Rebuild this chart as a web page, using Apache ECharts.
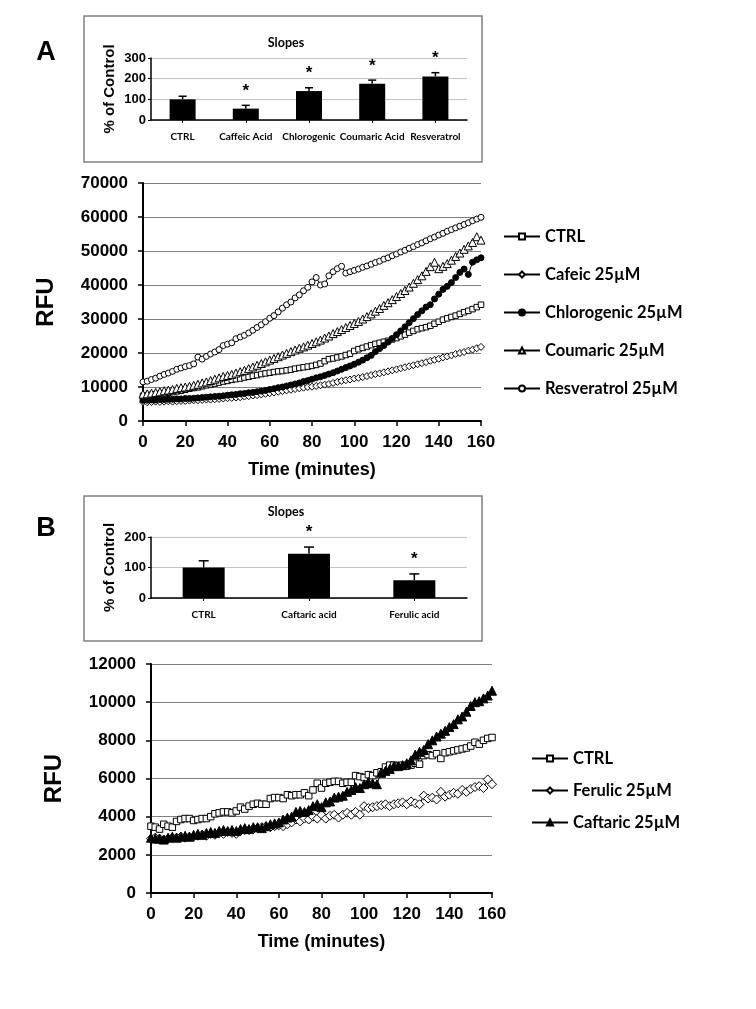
<!DOCTYPE html>
<html><head><meta charset="utf-8">
<script src="https://cdn.jsdelivr.net/npm/echarts@6/dist/echarts.min.js"></script>
<style>html,body{margin:0;padding:0;background:#fff}#c{width:756px;height:1009px}</style>
</head><body><div id="c"></div>
<script>
// ---------- DATA ----------
const catsA = ['CTRL','Caffeic Acid','Chlorogenic','Coumaric Acid','Resveratrol'];
const slopeA = [100, 55, 140, 176, 211];
const errA = [15, 16, 16, 17, 18];
const sigA = [0, 1, 1, 1, 1];

const catsB = ['CTRL','Caftaric acid','Ferulic acid'];
const slopeB = [100, 145, 58];
const errB = [22, 22, 21];
const sigB = [0, 1, 1];

const timeMin = [0,2,4,6,8,10,12,14,16,18,20,22,24,26,28,30,32,34,36,38,40,42,44,46,48,50,52,54,56,58,60,62,64,66,68,70,72,74,76,78,80,82,84,86,88,90,92,94,96,98,100,102,104,106,108,110,112,114,116,118,120,122,124,126,128,130,132,134,136,138,140,142,144,146,148,150,152,154,156,158,160];

const ctrlA = [7400,7500,7700,7800,8000,8100,8300,8500,8700,8900,
9200,9500,9700,9900,10200,10500,10700,11000,11300,11600,
11800,12100,12300,12500,12800,13000,13300,13500,13800,14000,
14200,14400,14600,14700,14900,15100,15400,15600,15800,16000,
16200,16500,16900,17600,18200,18400,18700,19000,19400,19800,
20600,21100,21500,21900,22300,22700,23000,23300,23600,24000,
24400,24900,25400,26000,26500,27000,27300,27600,28000,28600,
29200,29800,30200,30600,31000,31500,32000,32400,32900,33500,
34200];
const cafeicA = [5600,5500,5600,5700,5600,5700,5800,5700,5800,5900,
5900,6000,6100,6100,6200,6300,6300,6400,6500,6600,
6700,6800,6900,7000,7200,7300,7500,7600,7800,8000,
8200,8400,8600,8800,9000,9200,9400,9600,9800,10000,
10100,10300,10500,10700,10900,11200,11500,11800,12000,12200,
12500,12700,12900,13200,13500,13800,14000,14300,14600,14900,
15200,15500,15800,16100,16400,16700,17000,17300,17700,18000,
18300,18700,19000,19300,19700,20000,20300,20700,21000,21400,
21800];
const chloroA = [6100,6100,6200,6200,6300,6300,6400,6400,6500,6500,
6600,6600,6700,6800,6900,7000,7100,7200,7300,7400,
7600,7700,7800,8000,8100,8300,8400,8600,8800,9000,
9300,9500,9800,10000,10300,10600,10900,11200,11600,11900,
12300,12700,13000,13400,13800,14200,14700,15200,15700,16200,
16700,17300,17900,18600,19300,20400,21300,22200,23200,24300,
25400,26500,27700,28900,30100,31300,32400,33500,34200,35900,
37300,38700,39600,40700,42200,43700,44700,43100,46700,47400,
48000];
const coumA = [7900,8000,8200,8400,8600,8900,9100,9300,9600,9800,
10000,10200,10500,10800,11200,11500,11900,12300,12700,13100,
13400,13700,14100,14500,14900,15400,15900,16400,16900,17400,
17900,18400,18900,19400,19900,20400,20900,21400,21800,22300,
22800,23300,23800,24400,25000,25700,26300,26900,27500,28100,
28700,29300,30000,30700,31500,32300,33100,34000,34800,35700,
36600,37500,38400,39400,40500,41600,42700,44000,45400,46700,
44800,45500,46300,47300,48400,49400,50500,51500,52500,54200,
53200];
const resvA = [11500,11700,12200,12600,13200,13700,14100,14600,15200,15600,
16000,16300,16800,18800,18200,19000,19700,20300,21000,22200,
22600,23000,24200,24700,25200,25900,26700,27500,28300,29200,
30200,31000,32100,33200,34200,35000,36200,37100,38300,39300,
40900,42200,40000,40300,42700,43900,44800,45500,43500,43900,
44300,44700,45200,45600,46100,46600,47000,47600,48000,48600,
49100,49700,50200,50800,51300,51900,52400,53000,53600,54100,
54700,55200,55800,56300,56800,57300,57800,58300,58900,59400,
59900];

const ctrlB = [3500,3450,3350,3600,3500,3450,3750,3850,3900,3900,
3800,3850,3900,3900,4000,4150,4200,4250,4250,4200,
4300,4500,4400,4550,4650,4700,4650,4650,4950,5000,
5000,4950,5150,5100,5150,5150,5250,5100,5400,5750,
5500,5750,5800,5850,5850,5750,5800,5800,6150,6100,
6050,6200,6150,6300,6350,6600,6700,6700,6650,6700,
6650,6700,6800,6750,7200,7250,7200,7300,7050,7350,
7400,7450,7500,7550,7600,7700,7900,7800,8000,8100,
8150];
const ferulicB = [2850,2900,2850,2800,2850,2900,2900,2950,2900,2950,
2950,3000,3050,3000,3100,3050,3150,3100,3200,3150,
3100,3250,3300,3300,3350,3400,3450,3500,3450,3500,
3550,3500,3600,3700,3850,3750,3900,3850,4000,3900,
4100,3900,4050,4100,3950,4100,4200,4100,4250,4100,
4550,4450,4500,4550,4600,4650,4550,4650,4700,4750,
4650,4800,4700,4650,5100,4950,5000,4900,5300,5050,
5150,5250,5200,5400,5300,5450,5550,5600,5500,5950,
5700];
const caftaricB = [2900,2850,2850,2800,2900,2950,2900,2950,3000,2950,
3050,3100,3050,3150,3200,3150,3250,3300,3250,3300,
3250,3350,3400,3350,3450,3450,3400,3500,3600,3650,
3700,3850,3950,4000,4250,4300,4250,4350,4550,4650,
4500,4750,4800,5000,5050,5100,5300,5400,5550,5500,
5700,5800,5750,5700,6300,6400,6500,6650,6650,6700,
6800,6950,7250,7400,7500,7800,8000,8200,8350,8500,
8700,8850,9100,9250,9500,9800,10000,10050,10200,10350,
10600];

// ---------- STYLE ----------
const NUM = '"Liberation Sans", Arial, sans-serif';
const LBL = 'Lato, "Open Sans", sans-serif';
const pairs = arr => timeMin.map((t, i) => [t, arr[i]]);
const plain = v => String(v);

function errRender(capHalf, starOff) {
  return function (params, api) {
    const x = api.value(0), v = api.value(1), e = api.value(2);
    const p0 = api.coord([x, v]);
    const p1 = api.coord([x, v + e]);
    const ch = [
      {type:'line', shape:{x1:p0[0], y1:p0[1], x2:p1[0], y2:p1[1]}, style:{stroke:'#000', lineWidth:1.5}},
      {type:'line', shape:{x1:p1[0]-capHalf, y1:p1[1], x2:p1[0]+capHalf, y2:p1[1]}, style:{stroke:'#000', lineWidth:1.5}}
    ];
    if (api.value(3)) {
      ch.push({type:'text', style:{text:'*', x:p1[0], y:p1[1]-starOff, align:'center', verticalAlign:'middle',
        font:'bold 17px ' + NUM, fill:'#000'}});
    }
    return {type:'group', children: ch};
  };
}

function insetX(gi, cats) {
  return {type:'category', gridIndex:gi, data:cats, boundaryGap:true,
    axisLine:{show:true, lineStyle:{color:'#000', width:1.5}},
    axisTick:{show:true, alignWithLabel:true, length:3, lineStyle:{color:'#000'}},
    axisLabel:{interval:0, margin:12, color:'#000', fontFamily:LBL, fontWeight:'bold', fontSize:10},
    splitLine:{show:false}};
}
function insetY(gi, max) {
  return {type:'value', gridIndex:gi, min:0, max:max, interval:100,
    name:'% of Control', nameLocation:'middle', nameRotate:90, nameGap:34,
    nameTextStyle:{color:'#000', fontFamily:NUM, fontWeight:'bold', fontSize:15},
    axisLine:{show:true, lineStyle:{color:'#000', width:1.5}},
    axisTick:{show:true, length:3, lineStyle:{color:'#000'}},
    axisLabel:{margin:5, color:'#000', fontFamily:NUM, fontWeight:'bold', fontSize:13, formatter:plain},
    splitLine:{show:true, lineStyle:{color:'#c4c4c4', width:1}}};
}
function mainX(gi) {
  return {type:'value', gridIndex:gi, min:0, max:160, interval:20,
    name:'Time (minutes)', nameLocation:'middle', nameGap:40,
    nameTextStyle:{color:'#000', fontFamily:NUM, fontWeight:'bold', fontSize:18},
    axisLine:{show:true, lineStyle:{color:'#000', width:2}},
    axisTick:{show:true, length:5, lineStyle:{color:'#000', width:1.5}},
    axisLabel:{margin:13, color:'#000', fontFamily:NUM, fontWeight:'bold', fontSize:17, formatter:plain},
    splitLine:{show:false}};
}
function mainY(gi, max, step) {
  return {type:'value', gridIndex:gi, min:0, max:max, interval:step,
    name:'RFU', nameLocation:'middle', nameRotate:90, nameGap:85,
    nameTextStyle:{color:'#000', fontFamily:NUM, fontWeight:'bold', fontSize:24},
    axisLine:{show:true, lineStyle:{color:'#000', width:2}},
    axisTick:{show:true, length:5, lineStyle:{color:'#000', width:1.5}},
    axisLabel:{margin:15, color:'#000', fontFamily:NUM, fontWeight:'bold', fontSize:17, formatter:plain},
    splitLine:{show:true, lineStyle:{color:'#808080', width:1.2}}};
}
function lineSeries(name, gi, arr, symbol, size, fill) {
  return {type:'line', name:name, xAxisIndex:gi, yAxisIndex:gi, data:pairs(arr),
    symbol:symbol, symbolSize:size, showSymbol:true, showAllSymbol:true,
    lineStyle:{color:'#000', width:1}, itemStyle:{color:fill, borderColor:'#000', borderWidth:1},
    emphasis:{disabled:true}, animation:false};
}
function legendCfg(names, left, top, gap) {
  return {data:names, orient:'vertical', left:left, top:top, itemWidth:36, itemHeight:7.5, itemGap:gap,
    selectedMode:false, textStyle:{color:'#000', fontFamily:LBL, fontWeight:'bold', fontSize:16.5}};
}

const option = {
  backgroundColor:'#fff',
  animation:false,
  grid:[
    {left:151, top:58, width:316, height:62},
    {left:143, top:183, width:338, height:238},
    {left:151, top:537, width:316, height:61},
    {left:151, top:664, width:341, height:229}
  ],
  xAxis:[insetX(0, catsA), mainX(1), insetX(2, catsB), mainX(3)],
  yAxis:[insetY(0, 300), mainY(1, 70000, 10000), insetY(2, 200), mainY(3, 12000, 2000)],
  legend:[
    legendCfg(['CTRL','Cafeic 25µM','Chlorogenic 25µM','Coumaric 25µM','Resveratrol 25µM'], 498, 223, 21),
    legendCfg(['CTRL','Ferulic 25µM','Caftaric 25µM'], 526, 745, 15)
  ],
  graphic:[
    {type:'rect', shape:{x:84, y:16, width:398, height:146}, style:{fill:'none', stroke:'#808080', lineWidth:1.5}},
    {type:'rect', shape:{x:84, y:496, width:398, height:145}, style:{fill:'none', stroke:'#808080', lineWidth:1.5}},
    {type:'text', style:{text:'A', x:46, y:53, align:'center', verticalAlign:'middle', font:'bold 27px ' + NUM, fill:'#000'}},
    {type:'text', style:{text:'B', x:46, y:529, align:'center', verticalAlign:'middle', font:'bold 27px ' + NUM, fill:'#000'}},
    {type:'text', style:{text:'Slopes', x:286, y:43, align:'center', verticalAlign:'middle', font:'bold 12.5px ' + LBL, fill:'#000'}},
    {type:'text', style:{text:'Slopes', x:286, y:512, align:'center', verticalAlign:'middle', font:'bold 12.5px ' + LBL, fill:'#000'}}
  ],
  series:[
    {type:'bar', name:'slopesA', xAxisIndex:0, yAxisIndex:0, data:slopeA, barWidth:26, itemStyle:{color:'#000'}, emphasis:{disabled:true}},
    {type:'custom', name:'errA', xAxisIndex:0, yAxisIndex:0, renderItem:errRender(4, 14), z:5,
      data:catsA.map((c, i) => [i, slopeA[i], errA[i], sigA[i]]), encode:{x:0, y:1}},
    lineSeries('CTRL', 1, ctrlA, 'rect', 5.5, '#fff'),
    lineSeries('Cafeic 25µM', 1, cafeicA, 'diamond', 7, '#fff'),
    lineSeries('Chlorogenic 25µM', 1, chloroA, 'circle', 6, '#000'),
    lineSeries('Coumaric 25µM', 1, coumA, 'triangle', 8, '#fff'),
    lineSeries('Resveratrol 25µM', 1, resvA, 'circle', 6, '#fff'),
    {type:'bar', name:'slopesB', xAxisIndex:2, yAxisIndex:2, data:slopeB, barWidth:42, itemStyle:{color:'#000'}, emphasis:{disabled:true}},
    {type:'custom', name:'errB', xAxisIndex:2, yAxisIndex:2, renderItem:errRender(5, 15), z:5,
      data:catsB.map((c, i) => [i, slopeB[i], errB[i], sigB[i]]), encode:{x:0, y:1}},
    lineSeries('CTRL', 3, ctrlB, 'rect', 6.5, '#fff'),
    lineSeries('Ferulic 25µM', 3, ferulicB, 'diamond', 9, '#fff'),
    lineSeries('Caftaric 25µM', 3, caftaricB, 'triangle', 9, '#000')
  ]
};
const chart = echarts.init(document.getElementById('c'), null, {renderer:'canvas'});
chart.setOption(option);
</script></body></html>
